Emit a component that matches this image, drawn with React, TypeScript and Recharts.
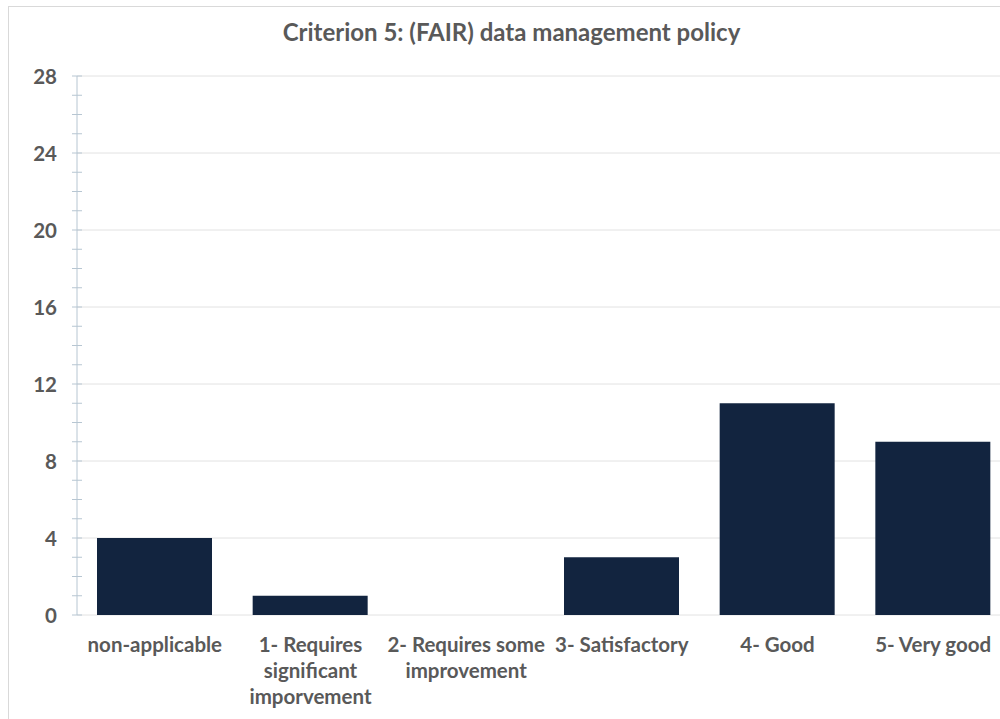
import { BarChart, Bar, XAxis, YAxis, CartesianGrid } from 'recharts';

// line breaks in the labels are where the axis text wraps
const categories = [
  'non-applicable',
  '1- Requires\nsignificant\nimporvement',
  '2- Requires some\nimprovement',
  '3- Satisfactory',
  '4- Good',
  '5- Very good',
];
const counts = [4, 1, 0, 3, 11, 9];
const minorTicks = Array.from({ length: 29 }, (_, i) => i);

const FONT = 'Lato, "Open Sans", sans-serif';
const TEXT = '#595959';
const AXIS = '#b7c6d2';

const data = categories.map((name, i) => ({ name, value: counts[i] }));

function YTick(props: any) {
  const { x, y, payload } = props;
  const major = payload.value % 4 === 0;
  return (
    <g>
      <line x1={x - 5} x2={x + 5} y1={y} y2={y} stroke={AXIS} strokeWidth={1} />
      {major && (
        <text
          x={x - 20}
          y={y}
          textAnchor="end"
          dominantBaseline="central"
          fill={TEXT}
          fontFamily={FONT}
          fontWeight={700}
          fontSize={20.5}
        >
          {payload.value}
        </text>
      )}
    </g>
  );
}

function XTick(props: any) {
  const { x, y, payload } = props;
  const lines = String(payload.value).split('\n');
  return (
    <text
      x={x}
      y={y + 21}
      textAnchor="middle"
      dominantBaseline="central"
      fill={TEXT}
      fontFamily={FONT}
      fontWeight={700}
      fontSize={20.5}
    >
      {lines.map((line, i) => (
        <tspan key={i} x={x} dy={i === 0 ? 0 : 26}>
          {line}
        </tspan>
      ))}
    </text>
  );
}

// gridlines only on every 4th tick (the labelled ones)
function GridLine(props: any) {
  const { x1, x2, y1, y2, index } = props;
  if (index % 4 !== 0) return <g key={props.key} />;
  return <line key={props.key} x1={x1} x2={x2} y1={y1} y2={y2} stroke="#e2e2e2" strokeWidth={1} />;
}

export default function App() {
  return (
    <div style={{ position: 'absolute', left: 0, top: 0, width: 1000, height: 719, overflow: 'hidden', background: '#fff' }}>
      <div
        style={{
          position: 'absolute',
          left: 8,
          top: 6,
          width: 1040,
          height: 740,
          border: '1px solid #d9d9d9',
          overflow: 'hidden',
        }}
      >
        <div
          style={{
            position: 'absolute',
            left: 0,
            top: 10,
            width: 1005,
            textAlign: 'center',
            fontFamily: FONT,
            fontWeight: 700,
            fontSize: 24,
            color: TEXT,
          }}
        >
          Criterion 5: (FAIR) data management policy
        </div>
        <BarChart
          width={1010}
          height={708}
          data={data}
          margin={{ top: 69, right: 8, bottom: 0, left: 0 }}
          barSize={115}
        >
          <CartesianGrid vertical={false} horizontal={GridLine} />
          <XAxis
            dataKey="name"
            axisLine={false}
            tickLine={false}
            height={100}
            interval={0}
            tick={<XTick />}
          />
          <YAxis
            domain={[0, 28]}
            ticks={minorTicks}
            interval={0}
            width={68}
            axisLine={{ stroke: AXIS }}
            tickLine={false}
            tickSize={0}
            tickMargin={0}
            tick={<YTick />}
          />
          <Bar dataKey="value" fill="#12243f" isAnimationActive={false} />
        </BarChart>
      </div>
    </div>
  );
}
